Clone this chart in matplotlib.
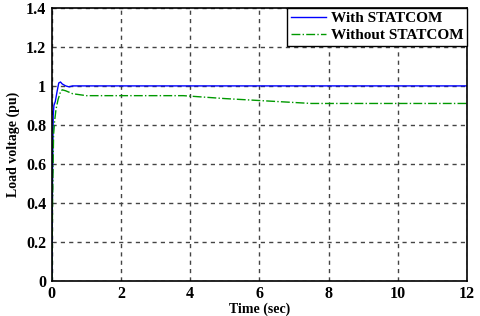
import matplotlib.pyplot as plt

# With STATCOM
t_with = [0, 0.02, 0.04, 0.06, 0.1, 0.15, 0.2, 0.25, 0.3, 0.4, 0.5, 0.6, 1, 2, 4, 6, 8, 10, 12]
v_with = [0, 0.55, 0.85, 0.9, 0.92, 0.97, 1.015, 1.02, 1.01, 1.0, 0.995, 1.0, 1.0, 1.0, 1.0, 1.0, 1.0, 1.0, 1.0]

# Without STATCOM
t_without = [0, 0.02, 0.05, 0.08, 0.12, 0.18, 0.25, 0.3, 0.4, 0.6, 0.8, 1, 2, 3, 3.8, 4.2, 5, 6, 7, 7.5, 8, 10, 12]
v_without = [0, 0.4, 0.75, 0.82, 0.88, 0.93, 0.97, 0.98, 0.975, 0.96, 0.955, 0.95, 0.95, 0.95, 0.95, 0.945, 0.935, 0.925, 0.915, 0.91, 0.91, 0.91, 0.91]

plt.rcParams['font.family'] = ['Liberation Serif', 'DejaVu Serif']
plt.rcParams['font.weight'] = 'bold'

fig = plt.figure(figsize=(4.8, 3.16), dpi=100)
ax = fig.add_axes([0.108, 0.111, 0.865, 0.864])

ax.plot(t_with, v_with, color='#0000ff', lw=1.0, label='With STATCOM')
ax.plot(t_without, v_without, color='#009900', lw=1.0, ls='-.', label='Without STATCOM')

ax.set_xlim(0, 12)
ax.set_ylim(0, 1.4)
ax.set_xticks([0, 2, 4, 6, 8, 10, 12])
ax.set_yticks([0, 0.2, 0.4, 0.6, 0.8, 1, 1.2, 1.4])
ax.set_yticklabels(['0', '0.2', '0.4', '0.6', '0.8', '1', '1.2', '1.4'])
ax.tick_params(labelsize=11.5, length=0, pad=4)
for lab in ax.get_xticklabels() + ax.get_yticklabels():
    lab.set_fontweight('bold')
ax.grid(True, color='#444444', ls=(0, (3, 3)), lw=1.0)
for s in ax.spines.values():
    s.set_linewidth(1.2)

ax.set_xlabel('Time (sec)', fontsize=10, fontweight='bold', labelpad=0)
ax.set_ylabel('Load voltage (pu)', fontsize=10, fontweight='bold', labelpad=4)

leg = ax.legend(loc='upper right', frameon=True, fancybox=False,
                borderaxespad=0, handlelength=2.3, handletextpad=0.3,
                borderpad=0.25, labelspacing=0.2, prop={'weight': 'bold', 'size': 11})
leg.get_frame().set_edgecolor('black')
leg.get_frame().set_linewidth(1.0)
leg.get_frame().set_alpha(1)

fig.savefig('out.png', dpi=100)
